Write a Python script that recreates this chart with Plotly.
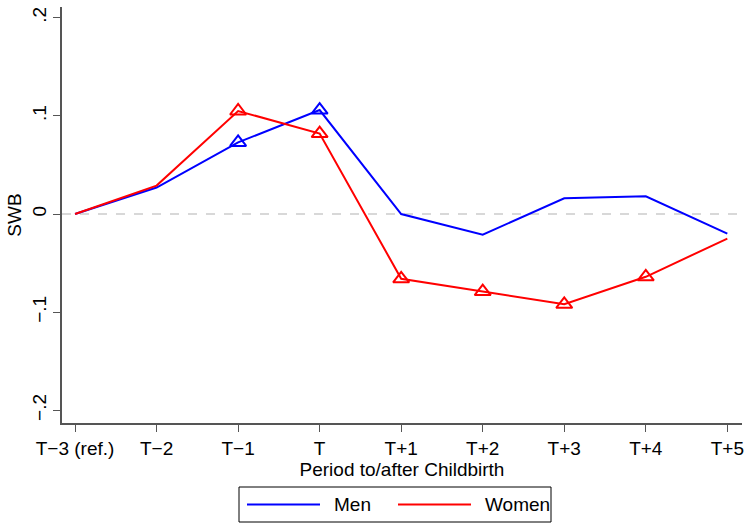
import plotly.graph_objects as go

periods = ["T\u22123 (ref.)", "T\u22122", "T\u22121", "T", "T+1", "T+2", "T+3", "T+4", "T+5"]
men = [0.0, 0.027, 0.073, 0.106, 0.0, -0.021, 0.016, 0.018, -0.020]
women = [0.0, 0.029, 0.105, 0.082, -0.066, -0.079, -0.092, -0.064, -0.025]
men_sig = [0, 0, 1, 1, 0, 0, 0, 0, 0]
women_sig = [0, 0, 1, 1, 1, 1, 1, 1, 0]
yticks = [-0.2, -0.1, 0.0, 0.1, 0.2]
yticklabels = ["\u2212.2", "\u2212.1", "0", ".1", ".2"]
series_names = ["Men", "Women"]
series_colors = ["#0000ff", "#ff0000"]

FONT = "Liberation Sans"
FS = 19
x = list(range(len(periods)))

W, H = 746, 524
L, R, T, B = 62, 4, 7, 101
PW, PH = W - L - R, H - T - B


def px_x(p):
    return (p - L) / PW


def px_y(p):
    return (H - B - p) / PH


fig = go.Figure()
fig.add_trace(go.Scatter(x=[-0.16, 8.18], y=[0, 0], mode="lines",
                         line=dict(color="#cccccc", width=1.5, dash="dash"),
                         showlegend=False, hoverinfo="skip"))
for vals, sig, color, name in [(men, men_sig, series_colors[0], series_names[0]),
                               (women, women_sig, series_colors[1], series_names[1])]:
    fig.add_trace(go.Scatter(x=x, y=vals, mode="lines", name=name, showlegend=False,
                             line=dict(color=color, width=2)))
    fig.add_trace(go.Scatter(x=[xi for xi, s in zip(x, sig) if s],
                             y=[v for v, s in zip(vals, sig) if s],
                             mode="markers", showlegend=False,
                             marker=dict(symbol="triangle-up-open", size=14,
                                         color=color, line=dict(width=2, color=color))))

shapes = [dict(type="rect", xref="paper", yref="paper",
               x0=px_x(239), x1=px_x(551), y0=px_y(522), y1=px_y(487),
               line=dict(color="black", width=1), fillcolor="white", layer="above")]
annotations = []
for (lx0, lx1, tx), name, color in zip([(247, 320, 332), (398, 471, 483)],
                                        series_names, series_colors):
    shapes.append(dict(type="line", xref="paper", yref="paper",
                       x0=px_x(lx0), x1=px_x(lx1), y0=px_y(504.5), y1=px_y(504.5),
                       line=dict(color=color, width=2)))
    annotations.append(dict(text=name, xref="paper", yref="paper", x=px_x(tx), y=px_y(504.5),
                            xanchor="left", yanchor="middle", showarrow=False,
                            font=dict(family=FONT, size=FS, color="black")))

fig.update_layout(
    width=W, height=H,
    margin=dict(l=L, r=R, t=T, b=B, autoexpand=False),
    plot_bgcolor="white", paper_bgcolor="white",
    font=dict(family=FONT, size=FS, color="black"),
    showlegend=False,
    shapes=shapes, annotations=annotations,
    xaxis=dict(range=[-0.16, 8.18], tickmode="array", tickvals=x, ticktext=periods,
               showgrid=False, zeroline=False, showline=True, linecolor="#555555",
               linewidth=1.5, ticks="outside", ticklen=7, tickcolor="#555555",
               tickfont=dict(size=FS), automargin=False,
               title=dict(text="Period to/after Childbirth", font=dict(size=FS), standoff=0)),
    yaxis=dict(range=[-0.213, 0.211], tickmode="array", tickvals=yticks,
               ticktext=yticklabels, tickangle=-90, automargin=False,
               showgrid=False, zeroline=False, showline=True, linecolor="#555555",
               linewidth=1.5, ticks="outside", ticklen=7, tickcolor="#555555",
               tickfont=dict(size=FS),
               title=dict(text="SWB", font=dict(size=FS), standoff=2)),
)

fig.write_html("out.html")
